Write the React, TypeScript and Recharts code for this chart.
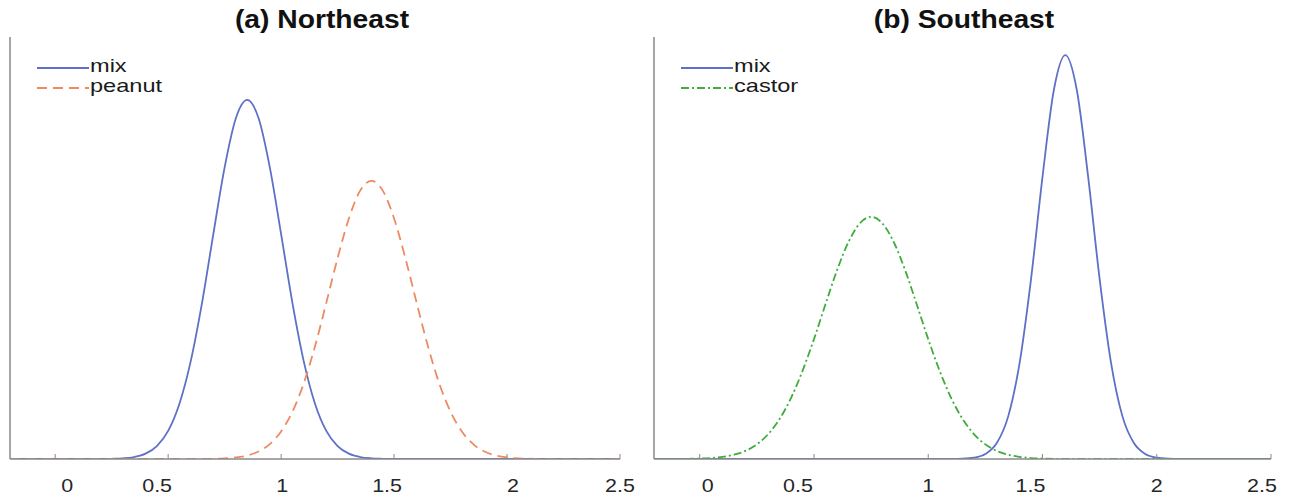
import React from 'react';
import { LineChart, Line, XAxis, YAxis, Legend } from 'recharts';

// x grid shared by both panels
const X = [
  -0.2, -0.15, -0.1, -0.05, 0, 0.05, 0.1, 0.15, 0.2, 0.25, 0.3, 0.35, 0.4, 0.45,
  0.5, 0.55, 0.6, 0.65, 0.7, 0.75, 0.8, 0.85, 0.9, 0.95, 1, 1.05, 1.1, 1.15, 1.2,
  1.25, 1.3, 1.35, 1.4, 1.45, 1.5, 1.55, 1.6, 1.65, 1.7, 1.75, 1.8, 1.85, 1.9,
  1.95, 2, 2.05, 2.1, 2.15, 2.2, 2.25, 2.3, 2.35, 2.4, 2.45, 2.5,
];

// (a) Northeast
const mixNE = [
  0, 0, 0, 0, 0, 0, 0, 0, 0,
  0.0005, 0.0016, 0.0047, 0.0126, 0.0305, 0.0665, 0.131, 0.232, 0.37, 0.533,
  0.691, 0.808, 0.851, 0.808, 0.691, 0.533, 0.37, 0.232, 0.131, 0.0665, 0.0305,
  0.0126, 0.0047, 0.0016, 0.0005,
  0, 0, 0, 0, 0, 0, 0, 0, 0, 0, 0, 0, 0, 0, 0, 0, 0, 0, 0, 0, 0,
];
const peanutNE = [
  0, 0, 0, 0, 0, 0, 0, 0, 0, 0, 0, 0, 0, 0, 0, 0, 0,
  0.0002, 0.0006, 0.0015, 0.0036, 0.0083, 0.0178, 0.0353, 0.0653, 0.112, 0.179,
  0.267, 0.37, 0.476, 0.57, 0.636, 0.659, 0.636, 0.57, 0.476, 0.37, 0.267, 0.179,
  0.112, 0.0653, 0.0353, 0.0178, 0.0083, 0.0036, 0.0015, 0.0006, 0.0002,
  0, 0, 0, 0, 0, 0, 0,
];

// (b) Southeast
const mixSE = [
  0, 0, 0, 0, 0, 0, 0, 0, 0, 0, 0, 0, 0, 0, 0, 0, 0, 0, 0, 0, 0, 0, 0, 0, 0, 0,
  0.0001, 0.0007, 0.0031, 0.0118, 0.0378, 0.101, 0.228, 0.427, 0.668, 0.875,
  0.957, 0.875, 0.668, 0.427, 0.228, 0.101, 0.0378, 0.0118, 0.0031, 0.0007, 0.0001,
  0, 0, 0, 0, 0, 0, 0, 0,
];
const castorSE = [
  0,
  0.0001, 0.0002, 0.0004, 0.001, 0.0023, 0.005, 0.0101, 0.0192, 0.0346, 0.0591,
  0.0952, 0.145, 0.209, 0.284, 0.366, 0.446, 0.513, 0.558, 0.574, 0.558, 0.513,
  0.446, 0.366, 0.284, 0.209, 0.145, 0.0952, 0.0591, 0.0346, 0.0192, 0.0101,
  0.005, 0.0023, 0.001, 0.0004, 0.0002, 0.0001,
  0, 0, 0, 0, 0, 0, 0, 0, 0, 0, 0, 0, 0, 0, 0, 0, 0,
];

const TICKS = [0, 0.5, 1, 1.5, 2, 2.5];

const BLUE = '#5d71c6';
const ORANGE = '#ee8a60';
const GREEN = '#3fac3c';
const AXIS = '#8a8a8a';
const FONT = '"Liberation Sans", Arial, sans-serif';
// the source figure looks stretched sideways, text included
const STRETCH = 1.13;

const dataNE = X.map((x, i) => ({ x, mix: mixNE[i], peanut: peanutNE[i] }));
const dataSE = X.map((x, i) => ({ x, mix: mixSE[i], castor: castorSE[i] }));

// tick labels in the original sit a little off their tick marks
const makeTick = (nudge: number[]) => (props: any) => {
  const { x, y, payload, index } = props;
  return (
    <g>
      <line x1={x} x2={x} y1={y} y2={y - 5} stroke={AXIS} strokeWidth={1} />
      <text
        transform={`translate(${x + (nudge[index] || 0)},${y + 33}) scale(${STRETCH},1)`}
        textAnchor="middle"
        fontSize={19}
        fontFamily={FONT}
        fill="#262626"
      >
        {payload.value}
      </text>
    </g>
  );
};

const renderLegend = (props: any) => {
  const { payload } = props;
  return (
    <div style={{ fontFamily: FONT, fontSize: 19, color: '#1a1a1a' }}>
      {payload.map((item: any) => (
        <div key={item.value} style={{ display: 'flex', alignItems: 'center', height: 20 }}>
          <svg width={52} height={20} style={{ display: 'block' }}>
            <line
              x1={0}
              x2={52}
              y1={10}
              y2={10}
              stroke={item.color}
              strokeWidth={2}
              strokeDasharray={item.payload?.strokeDasharray}
            />
          </svg>
          <span
            style={{
              marginLeft: 1,
              lineHeight: '20px',
              display: 'inline-block',
              position: 'relative',
              top: -2,
              transform: 'scaleX(1.24)',
              transformOrigin: 'left center',
            }}
          >
            {item.value}
          </span>
        </div>
      ))}
    </div>
  );
};

function Panel({
  data,
  width,
  margin,
  series,
  nudge,
}: {
  data: any[];
  width: number;
  margin: { top: number; right: number; bottom: number; left: number };
  series: { key: string; color: string; dash?: string }[];
  nudge: number[];
}) {
  const order = series.map((s) => s.key);
  return (
    <LineChart width={width} height={497} data={data} margin={margin}>
      <XAxis
        dataKey="x"
        type="number"
        domain={[-0.2, 2.5]}
        ticks={TICKS}
        allowDataOverflow
        height={38}
        tickSize={0}
        tickMargin={0}
        tickLine={false}
        axisLine={{ stroke: AXIS, strokeWidth: 1.5 }}
        tick={makeTick(nudge)}
        interval={0}
      />
      <YAxis
        type="number"
        domain={[0, 1]}
        allowDataOverflow
        width={1}
        tick={false}
        tickLine={false}
        axisLine={{ stroke: AXIS, strokeWidth: 1.5 }}
      />
      <Legend
        content={renderLegend}
        layout="horizontal"
        verticalAlign="middle"
        align="center"
        itemSorter={(it: any) => order.indexOf(it.value)}
        wrapperStyle={{ left: 37, top: 58, width: 'auto' }}
      />
      {series.map((s) => (
        <Line
          key={s.key}
          dataKey={s.key}
          name={s.key}
          type="monotone"
          stroke={s.color}
          strokeWidth={1.8}
          strokeDasharray={s.dash}
          dot={false}
          activeDot={false}
          isAnimationActive={false}
        />
      ))}
    </LineChart>
  );
}

export default function App() {
  const titleStyle: React.CSSProperties = {
    position: 'absolute',
    width: 400,
    textAlign: 'center',
    fontFamily: FONT,
    fontWeight: 'bold',
    fontSize: 25,
    lineHeight: '25px',
    color: '#111',
    top: 7,
    transform: `scaleX(${STRETCH})`,
  };
  return (
    <div style={{ position: 'absolute', left: 0, top: 0, width: 1292, height: 497, background: '#fff' }}>
      <div style={{ ...titleStyle, left: 322 - 200 }}>(a) Northeast</div>
      <div style={{ ...titleStyle, left: 964 - 200 }}>(b) Southeast</div>
      <div style={{ position: 'absolute', left: 0, top: 0 }}>
        <Panel
          data={dataNE}
          width={646}
          margin={{ top: 37, right: 26, bottom: 0, left: 9 }}
          series={[
            { key: 'mix', color: BLUE },
            { key: 'peanut', color: ORANGE, dash: '10 6' },
          ]}
          nudge={[12, -11, 1, -7, 6, 0]}
        />
      </div>
      <div style={{ position: 'absolute', left: 644, top: 0 }}>
        <Panel
          data={dataSE}
          width={648}
          margin={{ top: 37, right: 21, bottom: 0, left: 9 }}
          series={[
            { key: 'mix', color: BLUE },
            { key: 'castor', color: GREEN, dash: '8 3 2 3' },
          ]}
          nudge={[8, -16, 0, -12, 0, -9]}
        />
      </div>
    </div>
  );
}
